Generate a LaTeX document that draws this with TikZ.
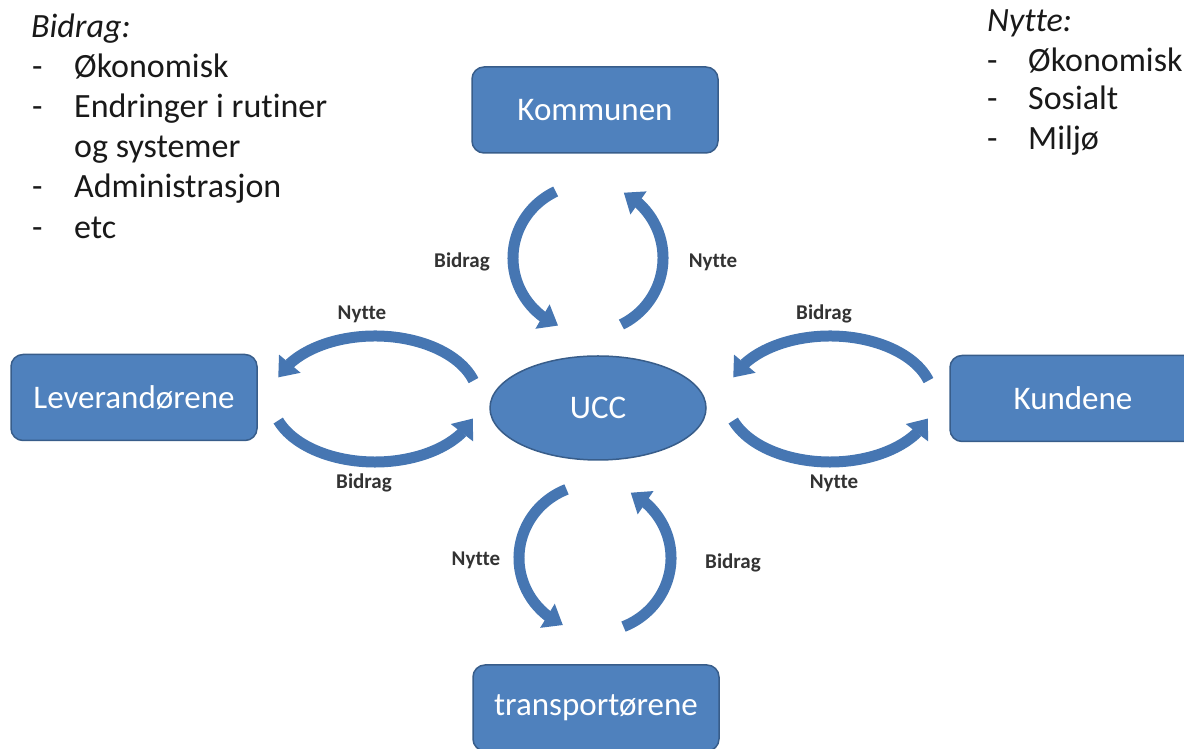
\documentclass[tikz,border=0pt]{standalone}
\usepackage{fontspec}
\setmainfont{Carlito}[Ligatures=NoCommon]
\usepackage{tikz}
\usetikzlibrary{arrows.meta,bending,shapes.geometric}

\definecolor{boxblue}{HTML}{4F81BD}
\definecolor{boxedge}{HTML}{385D8A}
\definecolor{flowblue}{HTML}{4676B2}

\begin{document}
\begin{tikzpicture}
[x=1pt, y=1pt,
party/.style={draw=boxedge, line width=1.5pt, fill=boxblue, rounded corners=12pt,
  minimum width=246pt, minimum height=86pt, text=white, font=\fontsize{33}{38}\selectfont},
hub/.style={ellipse, draw=boxedge, line width=1.5pt, fill=boxblue,
  minimum width=216pt, minimum height=104pt, text=white, font=\fontsize{33}{38}\selectfont},
flow/.style={flowblue, line width=11pt, -{Triangle[length=18pt,width=27pt,flex]}},
flowlabel/.style={font=\bfseries\fontsize{21}{24}\selectfont, text=black!80},
listline/.style={anchor=base west, inner sep=0pt, font=\fontsize{34}{38}\selectfont, text=black!90}]
\useasboundingbox (0,0) rectangle (1184,749);

% the parties
\node[party] (kommunen) at (595,639) {Kommunen};
\node[party] (lev) at (134,351.5) {Leverandørene};
\node[party] (kundene) at (1073,350.5) {Kundene};
\node[party] (transp) at (596,41) {transportørene};
\node[hub] (ucc) at (598,341) {UCC};

% centres of the arc pairs
\coordinate (topc) at (589,491);
\coordinate (leftc) at (375,350);
\coordinate (rightc) at (830,350);
\coordinate (botc) at (595,191);

% Kommunen <-> UCC
\draw[flow] (topc) ++(116:76 and 74) arc[start angle=116, end angle=246, x radius=76, y radius=74];
\draw[flow] (topc) ++(-64:74 and 74) arc[start angle=-64, end angle=62, x radius=74, y radius=74];
% Leverandørene <-> UCC
\draw[flow] (leftc) ++(17:103 and 63) arc[start angle=17, end angle=160, x radius=103, y radius=63];
\draw[flow] (leftc) ++(200:103 and 63) arc[start angle=200, end angle=342, x radius=103, y radius=63];
% Kundene <-> UCC
\draw[flow] (rightc) ++(17:103 and 63) arc[start angle=17, end angle=160, x radius=103, y radius=63];
\draw[flow] (rightc) ++(200:103 and 63) arc[start angle=200, end angle=342, x radius=103, y radius=63];
% transportørene <-> UCC
\draw[flow] (botc) ++(112:76 and 74) arc[start angle=112, end angle=245, x radius=76, y radius=74];
\draw[flow] (botc) ++(-68:76 and 74) arc[start angle=-68, end angle=62, x radius=76, y radius=74];

% arc labels
\node[flowlabel] (l1) at (462,487) {Bidrag};
\node[flowlabel] (l2) at (713,487) {Nytte};
\node[flowlabel] (l3) at (362,435) {Nytte};
\node[flowlabel] (l4) at (824,435) {Bidrag};
\node[flowlabel] (l5) at (364,266) {Bidrag};
\node[flowlabel] (l6) at (834,266) {Nytte};
\node[flowlabel] (l7) at (476,189) {Nytte};
\node[flowlabel] (l8) at (733,186) {Bidrag};

% Bidrag list
\node[listline] (bhead) at (31,711) {\itshape Bidrag:};
\node[listline] (bd1) at (32,671) {-};
\node[listline] (b1) at (74,671) {Økonomisk};
\node[listline] (bd2) at (32,631) {-};
\node[listline] (b2) at (74,631) {Endringer i rutiner};
\node[listline] (b3) at (74,591) {og systemer};
\node[listline] (bd4) at (32,551) {-};
\node[listline] (b4) at (74,551) {Administrasjon};
\node[listline] (bd5) at (32,510) {-};
\node[listline] (b5) at (74,510) {etc};

% Nytte list
\node[listline] (nhead) at (987,717) {\itshape Nytte:};
\node[listline] (nd1) at (987,677) {-};
\node[listline] (n1) at (1028,677) {Økonomisk};
\node[listline] (nd2) at (987,639) {-};
\node[listline] (n2) at (1028,639) {Sosialt};
\node[listline] (nd3) at (987,599) {-};
\node[listline] (n3) at (1028,599) {Miljø};
\end{tikzpicture}
\end{document}
